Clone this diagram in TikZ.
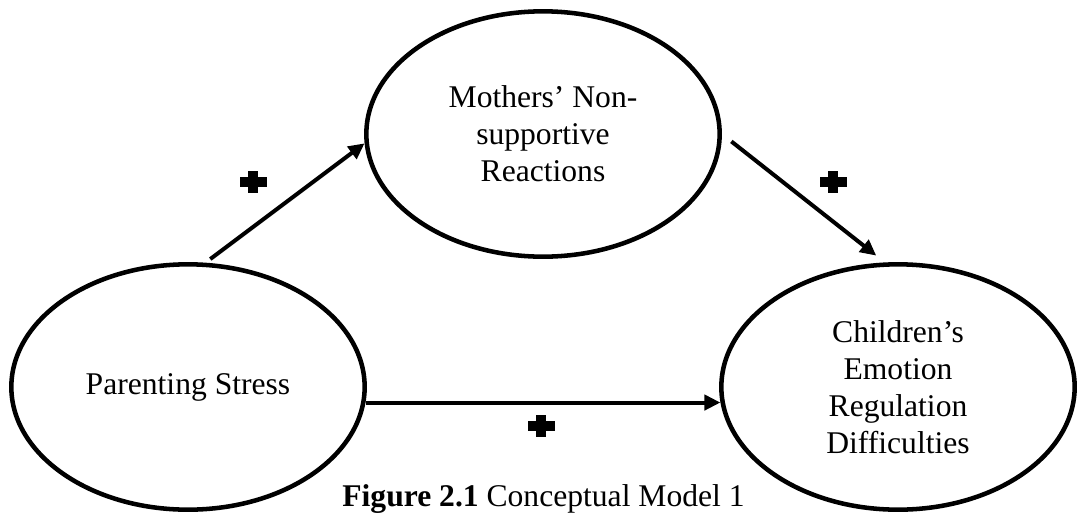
\documentclass[tikz,border=0pt]{standalone}
\usepackage{fontspec}
\setmainfont{Liberation Serif}
\usetikzlibrary{arrows.meta,shapes.geometric}

\newcommand{\heavyplus}{\rlap{\rule[4.5pt]{20.25pt}{7.5pt}}\hspace*{6.375pt}\rule{7.5pt}{16.5pt}\hspace*{6.375pt}}

\begin{document}
\begin{tikzpicture}[
    x=0.75pt, y=-0.75pt,
    every node/.style={font=\fontsize{23.7}{27.75}\selectfont},
    varbox/.style={
        draw,
        ellipse,
        line width=3.4pt,
        align=center,
        inner sep=0pt,
        minimum width=265pt,
        minimum height=184pt
    },
    plusmark/.style={inner sep=0pt},
    arr/.style={-{Triangle[length=12pt,width=11.25pt]}, line width=3pt}
]
\useasboundingbox (0,0) rectangle (1077,514);

    % Variables
    \node[varbox] (stress) at (188,387) {Parenting Stress};
    \node[varbox] (mother) at (543,134) {Mothers’ Non-\\supportive\\Reactions};
    \node[varbox] (child) at (898,387) {Children’s\\Emotion\\Regulation\\Difficulties};

    % Paths
    \draw[arr, shorten <=4.5pt] (stress.82) -- (mother.183.5);
    \draw[arr, shorten <=9pt, shorten >=8.25pt] (mother.east) -- (child.96);
    \draw[arr] (stress.-5) -- (child.185);

    % Signs
    \node[plusmark] (plusA) at (253,182) {\heavyplus};
    \node[plusmark] (plusB) at (833,182) {\heavyplus};
    \node[plusmark] (plusC) at (541,426) {\heavyplus};

    % Caption
    \node[anchor=base] (caption) at (543.5,506) {\textbf{Figure 2.1} Conceptual Model 1};

\end{tikzpicture}
\end{document}
